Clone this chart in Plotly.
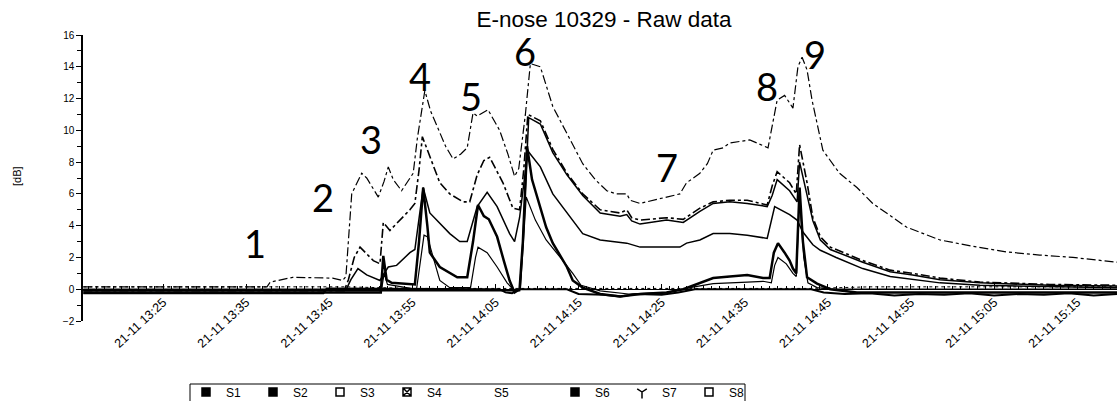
import pandas as pd
import plotly.graph_objects as go

# E-nose 10329 raw sensor responses, 21 Nov.  Times are minutes after 13:15.
START = pd.Timestamp("2013-11-21 13:15")

t_s1 = [0.4, 22.5, 22.9, 25.6, 30.4, 31.6, 32.0, 32.4, 32.7, 33.9, 34.5, 35.9, 36.6, 37.1, 37.7,
        38.7, 39.5, 40.1, 40.6, 41.5, 42.2, 43.0, 44.0, 44.9, 45.8, 46.6, 47.3, 47.8, 49.1, 50.5,
        51.5, 52.3, 52.8, 53.6, 54.2, 55.4, 56.9, 58.6, 60.5, 62.0, 63.4, 64.5, 65.8, 66.2, 67.4,
        70.6, 72.2, 73.0, 74.6, 75.5, 76.2, 77.4, 78.2, 80.6, 82.0, 82.8, 83.9, 84.8, 85.8, 86.4,
        86.9, 87.5, 88.1, 89.4, 91.4, 93.5, 95.4, 99.5, 103.5, 107.5, 111.5, 115.5, 119.5, 124.8]
v_s1 = [0.15, 0.15, 0.45, 0.75, 0.7, 0.55, 0.8, 4.0, 6.0, 7.3, 7.0, 5.8, 6.8, 7.7, 6.9,
        6.2, 6.8, 7.3, 9.5, 12.5, 11.2, 10.2, 9.0, 8.2, 8.5, 8.9, 11.1, 10.9, 11.3, 10.0,
        8.5, 7.1, 7.6, 11.0, 14.2, 14.0, 11.5, 9.8, 7.9, 6.9, 6.2, 6.0, 6.0, 5.6, 5.4,
        5.8, 6.0, 6.7, 7.3, 7.9, 8.75, 8.9, 9.2, 9.4, 9.1, 8.9, 11.9, 12.2, 11.4, 14.0,
        14.6, 13.8, 11.9, 8.75, 7.3, 6.4, 5.4, 3.9, 3.1, 2.7, 2.35, 2.15, 2.0, 1.7]

t_s2 = [0.4, 31.8, 32.3, 33.0, 33.7, 34.5, 35.3, 36.1, 36.5, 37.3, 38.5, 39.7, 40.3, 40.8, 41.2,
        41.8, 43.3, 44.5, 46.1, 46.9, 47.8, 48.6, 49.3, 50.9, 52.1, 52.9, 53.4, 53.9, 55.4, 56.9,
        58.6, 60.5, 62.6, 65.0, 65.8, 66.4, 67.4, 70.6, 72.6, 74.6, 76.2, 78.2, 80.3, 82.7, 83.3,
        83.9, 85.4, 86.2, 86.6, 87.5, 88.2, 89.1, 90.3, 94.2, 97.5, 100.2, 103.5, 108.3, 116.7, 124.8]
v_s2 = [-0.1, -0.1, 0.6, 2.0, 2.65, 2.2, 1.8, 1.6, 4.2, 3.7, 4.35, 5.0, 5.4, 7.5, 9.6,
        8.8, 6.7, 6.0, 5.5, 5.5, 7.2, 8.1, 8.3, 6.7, 5.1, 5.0, 7.5, 11.0, 10.6, 8.8,
        7.3, 6.0, 5.0, 4.8, 5.0, 4.5, 4.35, 4.5, 4.4, 5.1, 5.5, 5.6, 5.6, 5.3, 6.5,
        7.4, 6.7, 6.0, 9.1, 6.7, 4.5, 3.3, 2.65, 1.8, 1.2, 1.0, 0.7, 0.45, 0.3, 0.25]

t_s3 = [0.4, 52.9, 53.3, 54.0, 55.4, 56.9, 58.6, 60.5, 62.6, 65.0, 65.8, 66.4, 67.4, 70.6, 72.6,
        74.6, 76.2, 78.2, 80.3, 82.7, 83.3, 83.9, 85.4, 86.3, 86.6, 87.5, 88.2, 89.1, 90.3, 94.2,
        97.5, 100.2, 103.5, 108.3, 116.7, 124.8]
v_s3 = [-0.1, -0.1, 3.0, 10.8, 10.4, 8.6, 7.2, 5.9, 4.8, 4.6, 4.7, 4.3, 4.1, 4.35, 4.2,
        4.9, 5.4, 5.5, 5.4, 5.2, 5.9, 6.9, 6.2, 5.5, 8.0, 6.0, 4.3, 3.1, 2.5, 1.7,
        1.1, 0.9, 0.6, 0.4, 0.25, 0.2]

t_s4 = [0.4, 32.0, 32.6, 33.45, 34.5, 35.3, 36.1, 36.6, 37.1, 38.1, 39.7, 40.3, 40.8, 41.3, 42.1,
        43.3, 44.5, 45.7, 46.6, 47.8, 49.0, 50.2, 51.7, 52.3, 52.9, 53.9, 55.4, 56.9, 58.6, 60.5,
        62.6, 65.8, 67.4, 70.6, 72.2, 73.0, 74.6, 76.2, 78.2, 80.3, 82.7, 83.6, 85.4, 86.3, 87.0,
        88.2, 89.1, 91.0, 94.2, 97.5, 100.2, 103.5, 108.3, 116.7, 124.8]
v_s4 = [-0.05, -0.05, 0.6, 1.3, 0.9, 0.75, 0.55, 1.0, 1.4, 1.5, 2.3, 2.5, 4.5, 6.4, 4.8,
        4.15, 3.5, 3.0, 3.0, 5.2, 6.1, 5.2, 3.5, 3.0, 4.5, 8.7, 7.7, 6.0, 4.8, 3.5,
        3.1, 2.9, 2.65, 2.65, 2.65, 2.9, 3.1, 3.5, 3.5, 3.4, 3.2, 5.2, 4.7, 4.35, 3.6,
        2.8, 2.45, 2.0, 1.3, 0.8, 0.6, 0.4, 0.25, 0.15, 0.1]

t_s5 = [0.4, 32.0, 40.0, 70.0, 88.0, 95.0, 124.8]
v_s5 = [0.15, 0.15, 0.05, 0.05, 0.05, 0.15, 0.15]

t_s6 = [0.4, 36.2, 36.5, 36.9, 37.5, 40.3, 40.8, 41.3, 41.8, 42.1, 43.3, 44.5, 45.4, 46.6, 47.3,
        47.9, 48.6, 49.2, 50.2, 51.0, 51.7, 52.3, 52.9, 53.3, 53.8, 54.4, 55.4, 56.1, 56.9, 58.6,
        59.3, 60.5, 62.6, 65.0, 67.4, 70.6, 72.6, 74.6, 76.2, 78.2, 80.3, 82.2, 83.0, 83.5, 84.0,
        84.8, 85.4, 85.8, 86.2, 86.6, 87.0, 87.5, 88.7, 90.3, 93.5, 124.8]
v_s6 = [-0.2, -0.2, 2.1, 0.6, 0.4, 0.3, 3.0, 6.4, 4.0, 2.3, 1.4, 1.0, 0.75, 0.75, 3.0,
        5.3, 4.6, 4.4, 3.3, 1.8, 0.55, -0.2, 0.0, 3.0, 9.0, 6.9, 5.2, 3.9, 2.9, 1.4,
        0.55, 0.1, -0.3, -0.45, -0.3, -0.2, 0.0, 0.4, 0.7, 0.8, 0.9, 0.7, 0.7, 2.3, 2.9,
        2.3, 1.8, 1.3, 1.0, 6.4, 3.0, 0.75, 0.35, 0.0, -0.2, -0.2]

t_s7 = [0.4, 36.3, 36.6, 37.0, 40.5, 41.0, 41.4, 41.8, 43.3, 44.5, 47.0, 47.6, 47.9, 49.0, 50.2,
        51.4, 52.3, 53.0, 53.4, 53.7, 54.8, 56.1, 57.8, 59.3, 60.3, 62.6, 66.0, 70.6, 73.4, 76.2,
        80.3, 82.2, 83.2, 83.6, 84.0, 85.0, 85.8, 86.2, 86.6, 87.1, 87.6, 88.7, 90.3, 124.8]
v_s7 = [0.0, 0.0, 1.0, 0.3, 0.0, 2.0, 3.4, 3.3, 0.55, 0.1, 0.1, 2.0, 2.65, 2.3, 1.4,
        0.4, -0.1, 0.0, 3.0, 5.8, 4.35, 3.1, 2.0, 1.0, 0.25, -0.1, -0.3, -0.2, 0.1, 0.35,
        0.45, 0.5, 0.4, 1.5, 2.0, 1.6, 1.0, 0.8, 5.8, 2.0, 0.4, 0.1, 0.0, 0.0]

t_s8 = [0.4, 29.3, 29.7, 50.5, 51.2, 52.0, 52.8, 58.6, 60.0, 63.0, 65.0, 67.0, 70.0, 72.0, 74.0,
        88.0, 89.5, 92.0, 95.0, 98.0, 101.0, 104.0, 107.0, 110.0, 113.0, 116.0, 119.0, 122.0, 124.8]
v_s8 = [-0.25, -0.25, 0.05, 0.0, -0.2, -0.25, 0.0, 0.0, -0.3, -0.35, -0.45, -0.3, -0.35, -0.2, 0.0,
        0.0, -0.2, -0.3, -0.25, -0.4, -0.3, -0.35, -0.25, -0.4, -0.3, -0.35, -0.25, -0.4, -0.3]

series_names = ["S1", "S2", "S3", "S4", "S5", "S6", "S7", "S8"]
series_times = [t_s1, t_s2, t_s3, t_s4, t_s5, t_s6, t_s7, t_s8]
series_values = [v_s1, v_s2, v_s3, v_s4, v_s5, v_s6, v_s7, v_s8]

line_styles = {
    "S1": dict(width=1.2, dash="dashdot"),
    "S2": dict(width=1.6, dash="dashdot"),
    "S3": dict(width=1.5, dash="solid"),
    "S4": dict(width=1.5, dash="solid"),
    "S5": dict(width=1.0, dash="dot"),
    "S6": dict(width=2.5, dash="solid"),
    "S7": dict(width=1.2, dash="solid"),
    "S8": dict(width=2.0, dash="solid"),
}
legend_symbols = {
    "S1": "square-dot", "S2": "square", "S3": "square-open", "S4": "square-x-open",
    "S5": "square-open", "S6": "square", "S7": "y-down-open", "S8": "square-open",
}

# event markers written over the curves (number, x px, y px)
event_labels = [("1", 255, 243), ("2", 323, 197), ("3", 371, 139), ("4", 420, 76),
                ("5", 471, 96), ("6", 525, 51), ("7", 667, 167), ("8", 767, 86), ("9", 815, 54)]

W, H = 1117, 401
L, R, T, B = 83, 0, 35, 80
PW, PH = W - L - R, H - T - B


def px(x):
    return (x - L) / PW


def py(y):
    return (H - B - y) / PH


def to_time(minutes):
    return [START + pd.Timedelta(minutes=m) for m in minutes]


fig = go.Figure()
for name, ts, vs in zip(series_names, series_times, series_values):
    st = line_styles[name]
    fig.add_trace(go.Scatter(
        x=to_time(ts), y=vs, mode="lines", name=name, showlegend=False,
        line=dict(color="black", width=st["width"], dash=st["dash"]),
    ))

# legend entries (square swatches); S5 has a blank swatch
for i, name in enumerate(series_names):
    blank = name == "S5"
    fig.add_trace(go.Scatter(
        x=[None], y=[None], mode="markers", name=name,
        legend="legend" if i < 5 else "legend2",
        marker=dict(symbol=legend_symbols[name], size=8,
                    color="white" if blank else "black",
                    line=dict(color="white" if blank else "black", width=1.5)),
    ))

x0 = START + pd.Timedelta(minutes=0.36)
x1 = START + pd.Timedelta(minutes=124.8)
ymin, ymax = -2, 16

annotations = [
    dict(text=txt, x=px(x), y=py(y), xref="paper", yref="paper", showarrow=False,
         xanchor="center", yanchor="middle",
         font=dict(family="Lato", size=38, color="black"))
    for txt, x, y in event_labels
]
annotations.append(dict(text="[dB]", x=px(17), y=py(176), xref="paper", yref="paper",
                        showarrow=False, textangle=-90, xanchor="center", yanchor="middle",
                        font=dict(family="Liberation Sans", size=11, color="black")))

fig.update_layout(
    width=W, height=H,
    margin=dict(l=L, r=R, t=T, b=B, autoexpand=False),
    paper_bgcolor="white", plot_bgcolor="white",
    title=dict(text="E-nose 10329 - Raw data", x=604 / W, y=1 - 19 / H,
               xanchor="center", yanchor="middle",
               font=dict(family="Liberation Sans", size=22.5, color="black")),
    font=dict(family="Liberation Sans", color="black"),
    xaxis=dict(
        range=[x0, x1], anchor="free", position=(0 - ymin) / (ymax - ymin),
        showgrid=False, zeroline=False, showline=True, linecolor="black", linewidth=1,
        ticks="inside", ticklen=5, tickcolor="black",
        tick0=START + pd.Timedelta(minutes=10), dtick=600000,
        tickformat="%d-%m %H:%M", tickangle=-43,
        tickfont=dict(family="Liberation Sans", size=12.5, color="black"),
        minor=dict(ticks="inside", ticklen=3, dtick=60000, tickcolor="black"),
        automargin=False,
    ),
    yaxis=dict(
        range=[ymin, ymax], dtick=2, showgrid=False, zeroline=False,
        showline=True, linecolor="black", linewidth=1.5,
        ticks="outside", ticklen=5, tickcolor="black",
        minor=dict(ticks="outside", ticklen=4, dtick=1, tickcolor="black"),
        tickfont=dict(family="Liberation Sans", size=10, color="black"),
        automargin=False,
    ),
    legend=dict(orientation="h", x=px(186), y=py(377.5), xanchor="left", yanchor="top",
                bgcolor="rgba(0,0,0,0)", borderwidth=0,
                entrywidth=22, entrywidthmode="pixels",
                font=dict(family="Liberation Sans", size=12, color="black")),
    legend2=dict(orientation="h", x=px(555), y=py(377.5), xanchor="left", yanchor="top",
                 bgcolor="rgba(0,0,0,0)", borderwidth=0,
                 entrywidth=22, entrywidthmode="pixels",
                 font=dict(family="Liberation Sans", size=12, color="black")),
    annotations=annotations,
    shapes=[dict(type="rect", xref="paper", yref="paper",
                 x0=px(190), x1=px(745), y0=py(384), y1=py(410),
                 line=dict(color="black", width=1), fillcolor="rgba(0,0,0,0)")],
)

fig.write_html("out.html")
